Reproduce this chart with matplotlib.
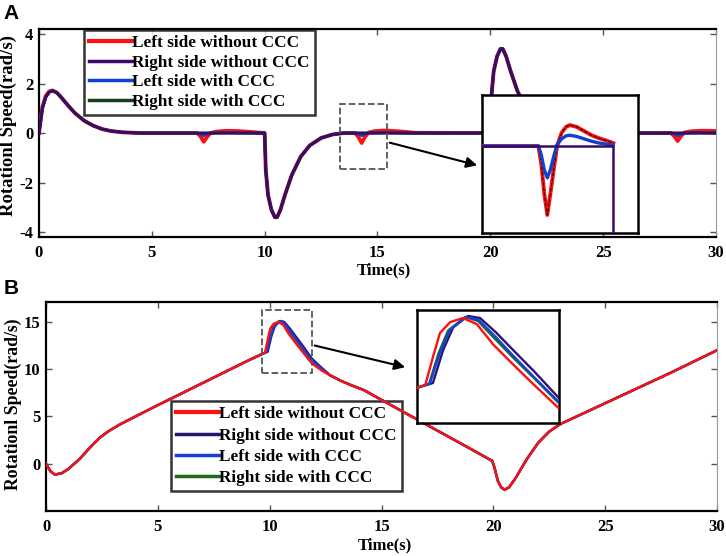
import matplotlib
matplotlib.use("Agg")
import matplotlib.pyplot as plt
from matplotlib.patches import Rectangle

plt.rcParams['font.family'] = ['Liberation Serif', 'DejaVu Serif']
plt.rcParams['font.weight'] = 'bold'
plt.rcParams['axes.unicode_minus'] = False

# ---------------- data: panel A ----------------
t_a = [0.0, 0.15, 0.3, 0.45, 0.6, 0.8, 1.0, 1.3, 1.6, 2.0, 2.4, 2.8, 3.2, 3.7, 4.5,
       7.0, 7.15, 7.3, 7.45, 7.6, 7.9, 8.3, 8.8, 9.3, 9.7, 10.0,
       10.05, 10.15, 10.3, 10.45, 10.55, 10.7, 10.9, 11.2, 11.6, 12.0, 12.5, 13.0, 13.5,
       14.0, 14.15, 14.3, 14.45, 14.6, 14.9, 15.3, 15.8, 16.3, 16.7,
       20.0, 20.05, 20.15, 20.3, 20.45, 20.55, 20.7, 20.9, 21.2, 21.6, 22.0, 22.5, 23.0, 23.5,
       28.0, 28.15, 28.3, 28.45, 28.6, 28.9, 29.3, 29.7, 30.0]

a_right_no = [0.0, 1.0, 1.45, 1.65, 1.71, 1.62, 1.42, 1.1, 0.8, 0.5, 0.3, 0.16, 0.08, 0.03, 0.0,
              0, 0, 0, 0, 0, 0, 0, 0, 0, 0, 0,
              -1.5, -2.5, -3.1, -3.4, -3.4, -3.1, -2.5, -1.7, -0.95, -0.5, -0.2, -0.06, 0.0,
              0, 0, 0, 0, 0, 0, 0, 0, 0, 0,
              0.0, 1.5, 2.5, 3.1, 3.4, 3.4, 3.1, 2.5, 1.7, 0.95, 0.5, 0.2, 0.06, 0.0,
              0, 0, 0, 0, 0, 0, 0, 0, 0]

a_left_no = [0.0, 1.05, 1.5, 1.68, 1.72, 1.63, 1.43, 1.1, 0.8, 0.5, 0.3, 0.16, 0.08, 0.03, 0.0,
             0.0, -0.12, -0.35, -0.15, 0.0, 0.06, 0.09, 0.08, 0.05, 0.02, 0.0,
             -1.5, -2.5, -3.1, -3.4, -3.4, -3.1, -2.5, -1.7, -0.95, -0.5, -0.2, -0.06, 0.0,
             0.0, -0.15, -0.4, -0.15, 0.02, 0.08, 0.1, 0.08, 0.04, 0.01,
             0.0, 1.5, 2.5, 3.1, 3.4, 3.4, 3.1, 2.5, 1.7, 0.95, 0.5, 0.2, 0.06, 0.0,
             0.0, -0.12, -0.32, -0.12, 0.02, 0.07, 0.09, 0.09, 0.08]

a_left_ccc = [0.0, 1.0, 1.45, 1.65, 1.71, 1.62, 1.42, 1.1, 0.8, 0.5, 0.3, 0.16, 0.08, 0.03, 0.0,
              0.0, -0.04, -0.1, -0.04, 0.0, 0.01, 0.02, 0.01, 0.0, 0.0, 0.0,
              -1.5, -2.5, -3.1, -3.4, -3.4, -3.1, -2.5, -1.7, -0.95, -0.5, -0.2, -0.06, 0.0,
              0.0, -0.04, -0.1, -0.04, 0.0, 0.01, 0.02, 0.01, 0.0, 0.0,
              0.0, 1.5, 2.5, 3.1, 3.4, 3.4, 3.1, 2.5, 1.7, 0.95, 0.5, 0.2, 0.06, 0.0,
              0.0, -0.04, -0.1, -0.04, 0.0, 0.01, 0.02, 0.01, 0.0]

a_right_ccc = a_right_no

# zoomed detail shown in the inset of panel A
ins_a_t = [13.34, 14.09, 14.13, 14.17, 14.21, 14.25, 14.30, 14.34, 14.40, 14.46, 14.51,
           14.6, 14.7, 14.8, 14.9, 15.0, 15.09]
ins_a_left_no = [0, 0, -0.3, -0.8, -1.15, -0.8, -0.35, 0.0, 0.22, 0.32, 0.35,
                 0.32, 0.25, 0.18, 0.13, 0.09, 0.05]
ins_a_left_ccc = [0, 0, -0.15, -0.4, -0.53, -0.4, -0.15, 0.02, 0.12, 0.17, 0.18,
                  0.16, 0.12, 0.08, 0.05, 0.03, 0.02]
ins_a_right_t = [13.34, 15.09, 15.09]
ins_a_right = [0.0, 0.0, -3.0]

# ---------------- data: panel B ----------------
t_b_pre = [0.0, 0.2, 0.4, 0.7, 1.0, 1.5, 2.0, 2.4, 2.8, 3.3, 4.0, 5.0, 6.0, 7.0, 8.0, 9.0]
v_b_pre = [0.0, -0.8, -1.15, -1.0, -0.55, 0.5, 1.8, 2.75, 3.45, 4.15, 5.0, 6.2, 7.36, 8.53,
           9.7, 10.87]

t_b_left_no = [9.66, 9.79, 9.91, 10.02, 10.18, 10.38, 10.6, 10.86, 11.15, 11.48, 11.89, 12.3]
v_b_left_no = [11.6, 11.74, 13.1, 14.27, 14.8, 15.0, 14.7, 13.7, 12.8, 11.8, 10.6, 9.9]
t_b_right_no = [9.66, 9.91, 10.07, 10.23, 10.46, 10.65, 10.9, 11.17, 11.5, 11.89, 12.3]
v_b_right_no = [11.6, 11.84, 13.44, 14.56, 15.1, 15.0, 14.3, 13.44, 12.4, 11.1, 10.2]
t_b_left_ccc = [9.66, 9.86, 10.02, 10.17, 10.43, 10.63, 10.89, 11.16, 11.49, 11.89, 12.3]
v_b_left_ccc = [11.6, 11.8, 13.3, 14.4, 15.05, 14.9, 14.1, 13.2, 12.15, 10.9, 10.1]
t_b_right_ccc = [9.66, 9.85, 10.0, 10.15, 10.42, 10.62, 10.88, 11.16, 11.49, 11.89, 12.3]
v_b_right_ccc = [11.6, 11.8, 13.3, 14.4, 15.05, 14.85, 14.0, 13.1, 12.1, 10.85, 10.05]

t_b_post = [12.7, 13.2, 13.7, 14.2, 15.0, 16.0, 17.0, 18.0, 19.0, 19.95, 20.05, 20.2, 20.35,
            20.5, 20.7, 21.0, 21.5, 22.0, 22.5, 23.0, 24.0, 25.0, 26.0, 27.0, 28.0, 29.0, 30.0]
v_b_post = [9.35, 8.75, 8.25, 7.8, 6.75, 5.45, 4.15, 2.85, 1.55, 0.3, -0.4, -1.8, -2.5,
            -2.75, -2.5, -1.5, 0.5, 2.2, 3.4, 4.2, 5.3, 6.4, 7.5, 8.6, 9.7, 10.85, 12.0]

labels = ["Left side without CCC", "Right side without CCC",
          "Left side with CCC", "Right side with CCC"]

RED = "#ff1010"
PURPLE_A = "#3a0a66"
BLUE_A = "#1040d0"
GREEN_A = "#1a3d1a"
PURPLE_B = "#2a1470"
BLUE_B = "#1a3fd8"
GREEN_B = "#1e6a1e"

fig = plt.figure(figsize=(7.26, 5.56), dpi=100)


def style_axes(ax):
    ax.tick_params(direction="in", length=4, width=1, top=True, right=True,
                   labelsize=12, color="#555555")
    ax.tick_params(axis="x", pad=6)
    ax.tick_params(axis="y", pad=4)
    for s in ["left", "bottom", "top"]:
        ax.spines[s].set_linewidth(1.6)
        ax.spines[s].set_color("black")
    ax.spines["right"].set_linewidth(0.8)
    ax.spines["right"].set_color("#999999")
    for lab in ax.get_xticklabels() + ax.get_yticklabels():
        lab.set_fontweight("bold")


# ================= panel A =================
axA = fig.add_axes([0.0537, 0.5737, 0.9325, 0.374])
axA.plot(t_a, a_left_no, color=RED, lw=2.8, zorder=3)
axA.plot(t_a, a_left_ccc, color=BLUE_A, lw=2.2, zorder=4)
axA.plot(t_a, a_right_ccc, color=GREEN_A, lw=2.0, zorder=5)
axA.plot(t_a, a_right_no, color=PURPLE_A, lw=2.0, zorder=6)
axA.set_xlim(0, 30)
axA.set_ylim(-4.2, 4.2)
axA.set_xticks([0, 5, 10, 15, 20, 25, 30])
axA.set_yticks([-4, -2, 0, 2, 4])
style_axes(axA)
axA.set_xlabel("Time(s)", fontsize=12, fontweight="bold")
axA.xaxis.set_label_coords(0.51, -0.12)
axA.set_ylabel("Rotationl Speed(rad/s)", fontsize=13.5, fontweight="bold")
axA.yaxis.set_label_coords(-0.0325, 0.538)

hA = [plt.Line2D([], [], color=RED, lw=3),
      plt.Line2D([], [], color=PURPLE_A, lw=2.5),
      plt.Line2D([], [], color=BLUE_A, lw=2.5),
      plt.Line2D([], [], color=GREEN_A, lw=2.5)]
legA = axA.legend(hA, labels, loc="upper left", bbox_to_anchor=(0.0665, 0.995),
                  fontsize=12.4, frameon=True, fancybox=False, edgecolor="black",
                  handlelength=2.5, handletextpad=0.0, labelspacing=0.2,
                  borderpad=0.3, borderaxespad=0)
legA.get_frame().set_linewidth(1.8)
for txt in legA.get_texts():
    txt.set_fontweight("bold")

axA.add_patch(Rectangle((13.34, -1.45), 2.08, 2.62, fill=False, ls="--",
                        lw=1.3, ec="#555555", zorder=7))
axA.annotate("", xy=(19.54, -1.33), xytext=(15.42, -0.36),
             arrowprops=dict(arrowstyle="-|>", color="black", lw=1.5, mutation_scale=16),
             zorder=8)

insA = fig.add_axes([0.664, 0.581, 0.2149, 0.248])
insA.plot(ins_a_t, ins_a_left_no, color=RED, lw=2.8, zorder=3)
insA.plot(ins_a_t, ins_a_left_no, color="black", lw=0.7, ls="--", zorder=4)
insA.plot(ins_a_t, ins_a_left_ccc, color=BLUE_A, lw=2.4, zorder=5)
insA.plot(ins_a_right_t, ins_a_right, color=PURPLE_A, lw=1.8, zorder=6)
insA.set_xlim(13.34, 15.42)
insA.set_ylim(-1.45, 0.85)
insA.set_xticks([])
insA.set_yticks([])
for s in insA.spines.values():
    s.set_linewidth(1.8)

# ================= panel B =================
axB = fig.add_axes([0.0634, 0.0809, 0.9242, 0.3759])
series_b = [
    (t_b_pre + t_b_right_no + t_b_post, v_b_pre + v_b_right_no + v_b_post, PURPLE_B, 3),
    (t_b_pre + t_b_right_ccc + t_b_post, v_b_pre + v_b_right_ccc + v_b_post, GREEN_B, 4),
    (t_b_pre + t_b_left_ccc + t_b_post, v_b_pre + v_b_left_ccc + v_b_post, BLUE_B, 4),
    (t_b_pre + t_b_left_no + t_b_post, v_b_pre + v_b_left_no + v_b_post, RED, 5),
]
for tt, vv, col, z in series_b:
    axB.plot(tt, vv, color=col, lw=1.7, zorder=z)
axB.set_xlim(0, 30)
axB.set_ylim(-5, 17.1)
axB.set_xticks([0, 5, 10, 15, 20, 25, 30])
axB.set_yticks([0, 5, 10, 15])
style_axes(axB)
axB.set_xlabel("Time(s)", fontsize=12, fontweight="bold")
axB.xaxis.set_label_coords(0.505, -0.124)
axB.set_ylabel("Rotationl Speed(rad/s)", fontsize=12.8, fontweight="bold")
axB.yaxis.set_label_coords(-0.036, 0.512)

hB = [plt.Line2D([], [], color=RED, lw=3),
      plt.Line2D([], [], color=PURPLE_B, lw=2.5),
      plt.Line2D([], [], color=BLUE_B, lw=2.5),
      plt.Line2D([], [], color=GREEN_B, lw=2.5)]
legB = axB.legend(hB, labels, loc="upper left", bbox_to_anchor=(0.186, 0.526),
                  fontsize=12.4, frameon=True, fancybox=False, edgecolor="black",
                  handlelength=2.5, handletextpad=0.0, labelspacing=0.3,
                  borderpad=0.3, borderaxespad=0)
legB.get_frame().set_linewidth(1.8)
legB.set_zorder(2)
for txt in legB.get_texts():
    txt.set_fontweight("bold")

axB.add_patch(Rectangle((9.66, 9.61), 2.23, 6.66, fill=False, ls="--",
                        lw=1.3, ec="#555555", zorder=7))
axB.annotate("", xy=(16.18, 10.14), xytext=(11.89, 12.57),
             arrowprops=dict(arrowstyle="-|>", color="black", lw=1.5, mutation_scale=16),
             zorder=8)

insB = fig.add_axes([0.5744, 0.2392, 0.1956, 0.2032])
for tt, vv, col, z in series_b:
    insB.plot(tt, vv, color=col, lw=1.7, zorder=z)
insB.set_xlim(9.66, 11.89)
insB.set_ylim(9.89, 15.39)
insB.set_xticks([])
insB.set_yticks([])
for s in insB.spines.values():
    s.set_linewidth(1.8)

fig.text(0.005, 0.975, "A", fontsize=15, fontweight="bold", family="Liberation Sans",
         va="center", ha="left")
fig.text(0.005, 0.482, "B", fontsize=15, fontweight="bold", family="Liberation Sans",
         va="center", ha="left")

fig.savefig("out.png", dpi=100)
